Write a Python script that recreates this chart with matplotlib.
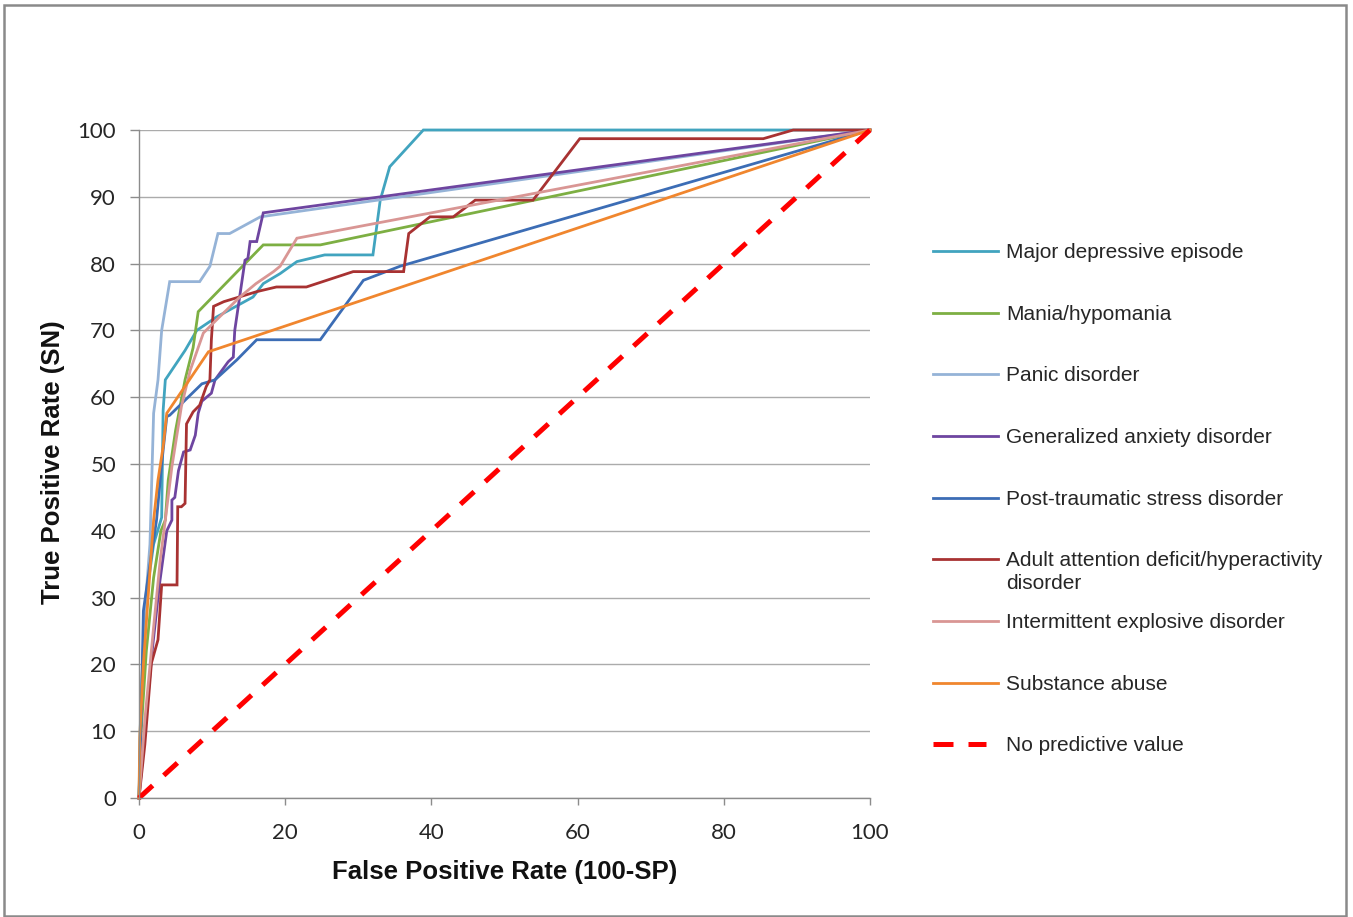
import matplotlib
matplotlib.use("Agg")
import matplotlib.pyplot as plt
from matplotlib.lines import Line2D
from matplotlib.patches import Rectangle

# ROC curves (x = 100-SP, y = SN)
mde_x = [0, 0.2, 0.8, 2.0, 3.1, 3.3, 3.6, 6.3, 7.9, 10.6, 15.6, 17.0, 19.3, 21.6, 25.4, 32.0, 33.0, 34.3, 38.9, 100]
mde_y = [0, 12, 28.6, 38, 42, 58, 62.6, 67, 70, 72, 75, 77, 78.5, 80.3, 81.3, 81.3, 89.5, 94.5, 100, 100]

mania_x = [0, 0.3, 1.0, 2.0, 3.0, 3.6, 4.0, 5.0, 6.3, 7.4, 8.1, 17.0, 24.8, 100]
mania_y = [0, 10, 22, 33, 40, 41.6, 47.6, 55, 62.6, 67.4, 72.8, 82.8, 82.8, 100]

panic_x = [0, 0.3, 0.8, 1.5, 2.0, 2.6, 3.1, 4.2, 8.3, 9.7, 10.8, 12.4, 16.6, 100]
panic_y = [0, 14, 28, 38, 57.6, 62.6, 70, 77.3, 77.3, 79.6, 84.5, 84.5, 87, 100]

gad_x = [0, 0.8, 1.8, 2.8, 3.8, 4.5, 4.5, 4.9, 5.4, 6.1, 7.0, 7.7, 8.1, 8.6, 9.9, 10.4, 12.2, 12.9,
         13.1, 14.5, 14.9, 15.2, 16.1, 17.0, 100]
gad_y = [0, 10, 22, 32, 40, 41.6, 44.6, 45, 49, 51.8, 52.1, 54.3, 57.6, 59.4, 60.6, 62.6, 65.3, 66,
         70, 80.5, 80.8, 83.3, 83.3, 87.6, 100]

ptsd_x = [0, 0.3, 0.6, 1.5, 2.4, 3.1, 3.8, 4.2, 8.6, 10.4, 13.4, 16.1, 24.8, 30.7, 35.7, 100]
ptsd_y = [0, 12, 28, 35, 41.6, 50, 57.1, 57.3, 62, 62.6, 65.6, 68.6, 68.6, 77.5, 79.6, 100]

adhd_x = [0, 0.8, 1.7, 2.6, 3.1, 5.2, 5.3, 5.8, 6.3, 6.5, 7.4, 8.3, 9.2, 9.7, 9.9, 10.2, 11.6, 16.1,
          18.8, 22.9, 29.3, 36.2, 36.9, 39.8, 43, 46, 53.9, 60.3, 85.4, 89.5, 100]
adhd_y = [0, 8, 20.2, 23.7, 31.9, 31.9, 43.6, 43.6, 44.1, 56, 57.8, 58.8, 61.6, 62.6, 68.6, 73.6, 74.3, 75.8,
          76.5, 76.5, 78.8, 78.8, 84.5, 87, 87, 89.5, 89.5, 98.7, 98.7, 100, 100]

ied_x = [0, 0.8, 2.0, 2.9, 3.6, 4.5, 5.8, 7.0, 8.8, 11.0, 13.8, 16.0, 18.4, 19.3, 21.6, 100]
ied_y = [0, 11.7, 25.6, 35.6, 41.6, 49.6, 58.6, 64, 69.6, 72, 75, 77, 78.8, 79.6, 83.8, 100]

subst_x = [0, 0.1, 0.6, 1.5, 2.0, 2.6, 3.3, 3.8, 9.5, 100]
subst_y = [0, 9, 20, 34, 41.6, 47.6, 52.6, 57.6, 66.8, 100]

diag_x = [0, 100]
diag_y = [0, 100]

labels = ["Major depressive episode", "Mania/hypomania", "Panic disorder",
          "Generalized anxiety disorder", "Post-traumatic stress disorder",
          "Adult attention deficit/hyperactivity\ndisorder", "Intermittent explosive disorder",
          "Substance abuse", "No predictive value"]
colors = ["#41A4BF", "#7DAF43", "#95B3D7", "#6E45A0", "#3C6DB5",
          "#A83232", "#D99694", "#F0862E", "#FF0000"]

x_ticks = [0, 20, 40, 60, 80, 100]
y_ticks = list(range(0, 101, 10))

series = [(mde_x, mde_y), (mania_x, mania_y), (panic_x, panic_y), (gad_x, gad_y),
          (ptsd_x, ptsd_y), (adhd_x, adhd_y), (ied_x, ied_y), (subst_x, subst_y)]

W, H = 1353, 917
fig = plt.figure(figsize=(W / 100, H / 100), dpi=100)
ax = fig.add_axes([139 / W, 1 - 798 / H, (870 - 139) / W, (798 - 130) / H])

# outer frame round the whole picture
fig.patches.append(Rectangle((4 / W, 1 - 916 / H), 1342 / W, 911 / H, transform=fig.transFigure,
                             fill=False, edgecolor="#8a8a8a", linewidth=1.8))

for (xs, ys), c in zip(series, colors[:8]):
    ax.plot(xs, ys, color=c, linewidth=2.0, clip_on=False, solid_joinstyle="miter")
ax.plot(diag_x, diag_y, color=colors[8], linewidth=3.6, dashes=(3.7, 3.0),
        dash_capstyle="butt", clip_on=False)

ax.set_xlim(0, 100)
ax.set_ylim(0, 100)
ax.set_xticks(x_ticks)
ax.set_yticks(y_ticks)
ax.grid(axis="y", color="#ababab", linewidth=1.0)
ax.set_axisbelow(True)
for s in ["top", "right"]:
    ax.spines[s].set_visible(False)
for s in ["left", "bottom"]:
    ax.spines[s].set_color("#8c8c8c")
    ax.spines[s].set_linewidth(1.0)

ax.tick_params(axis="y", length=6.5, width=1.0, color="#8c8c8c", pad=10, labelcolor="#262626")
ax.tick_params(axis="x", length=5, width=1.0, color="#8c8c8c", pad=13, labelcolor="#262626")
for lab in ax.get_xticklabels() + ax.get_yticklabels():
    lab.set_fontfamily("Lato")
    lab.set_fontsize(16)

label_font = {"family": "Liberation Sans", "weight": "bold", "size": 18.5, "color": "#111111"}
ax.set_xlabel("False Positive Rate (100-SP)", va="center", **label_font)
ax.xaxis.set_label_coords(0.5007, -(872 - 798) / 668)
ax.set_ylabel("True Positive Rate (SN)", va="center", **label_font)
ax.yaxis.set_label_coords((53 - 139) / 731, 0.503)

# legend drawn by hand so the two-line entry keeps even spacing
leg_y = [251, 313, 374, 436, 498, 559, 621, 683, 744]
for i, (lab, c, yy) in enumerate(zip(labels, colors, leg_y)):
    fy = 1 - yy / H
    if i == 8:
        fig.add_artist(Line2D([933 / W, 986 / W], [fy, fy], transform=fig.transFigure,
                              color=c, linewidth=3.6, dashes=(4.0, 3.0), dash_capstyle="butt"))
    else:
        fig.add_artist(Line2D([933 / W, 998 / W], [fy, fy], transform=fig.transFigure,
                              color=c, linewidth=2.0))
    fig.text(1006 / W, fy + 8 / H, lab, ha="left", va="top", family="Liberation Sans",
             size=15, color="#262626", linespacing=1.25)

fig.savefig("out.png", dpi=100)
